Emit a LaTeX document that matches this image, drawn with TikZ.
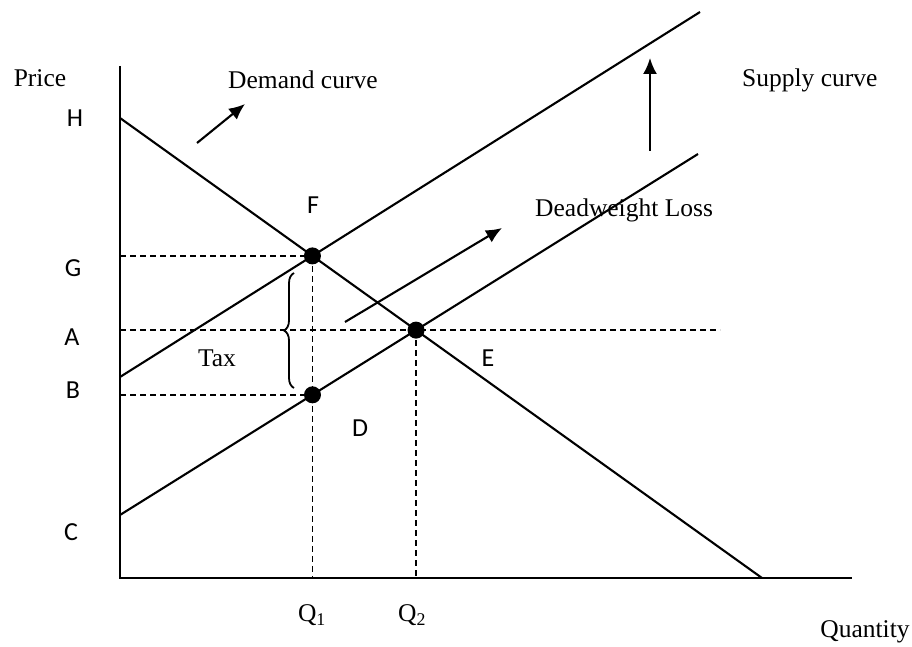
\documentclass[tikz,border=0pt]{standalone}
\usepackage{fontspec}
\setmainfont{Liberation Serif}
\newfontfamily\lblfont{Carlito}
\usetikzlibrary{decorations.pathreplacing,arrows.meta}
\begin{document}
\begin{tikzpicture}[x=1pt,y=-1pt,
  axisline/.style={line width=2.6pt},
  curve/.style={line width=2.1pt},
  guide/.style={line width=1.8pt,dash pattern=on 6pt off 4pt},
  shiftarrow/.style={line width=2.1pt,-{Latex[length=16pt,width=14pt]}},
  dot/.style={circle,fill=black,inner sep=0pt,minimum size=17pt},
  serlbl/.style={font=\fontsize{25.5}{30}\selectfont,inner sep=0pt},
  letlbl/.style={font=\lblfont\fontsize{26}{30}\selectfont,inner sep=0pt}]
\useasboundingbox (0,0) rectangle (912,647);
% key points
\coordinate (O) at (120,578);
\coordinate (Ytop) at (120,66);
\coordinate (Xend) at (852,578);
\coordinate (Hpt) at (120,118);
\coordinate (Dend) at (762,578);
\coordinate (S1a) at (120,377);
\coordinate (S1b) at (700,12);
\coordinate (S2a) at (120,515);
\coordinate (S2b) at (698,154);
\coordinate (F) at (intersection of Hpt--Dend and S1a--S1b);
\coordinate (E) at (intersection of Hpt--Dend and S2a--S2b);
\coordinate (Fb) at (F|-O);
\coordinate (Eb) at (E|-O);
\coordinate (Dp) at (intersection of F--Fb and S2a--S2b);
\coordinate (Gax) at (O|-F);
\coordinate (Aax) at (O|-E);
\coordinate (Bax) at (O|-Dp);
\coordinate (Aref) at (720,0);
\coordinate (Aend) at (Aref|-E);
% axes
\draw[axisline] (Ytop) -- (O) -- (Xend);
% dashed guides
\draw[guide] (Gax) -- (F);
\draw[guide] (Aax) -- (Aend);
\draw[guide] (Bax) -- (Dp);
\draw[guide] (F) -- (Fb);
\draw[guide] (E) -- (Eb);
% curves
\draw[curve] (Hpt) -- (Dend);
\draw[curve] (S1a) -- (S1b);
\draw[curve] (S2a) -- (S2b);
% dots
\node[dot] (Fdot) at (F) {};
\node[dot] (Edot) at (E) {};
\node[dot] (Ddot) at (Dp) {};
% shift arrows
\coordinate (da1) at (197,143);
\coordinate (da2) at (245,104);
\draw[shiftarrow] (da1) -- (da2);
\coordinate (ua1) at (650,151);
\coordinate (ua2) at (650,58);
\draw[shiftarrow] (ua1) -- (ua2);
\coordinate (wa1) at (345,322);
\coordinate (wa2) at (502,228);
\draw[shiftarrow] (wa1) -- (wa2);
% brace
\coordinate (br1) at (294,388);
\coordinate (br2) at (294,273);
\draw[line width=1.8pt,decorate,decoration={brace,amplitude=10pt}] (br1) -- (br2);
% labels
\node[serlbl] (price) at (40,78) {Price};
\node[serlbl,anchor=west] (demand) at (228,80) {Demand curve};
\node[serlbl,anchor=west] (supply) at (742,80) {Supply curve};
\node[serlbl,anchor=west] (dwl) at (535,210) {Deadweight Loss};
\node[serlbl] (tax) at (217,358) {Tax};
\node[serlbl] (q1) at (312,615) {Q\textsubscript{1}};
\node[serlbl] (q2) at (412,615) {Q\textsubscript{2}};
\node[serlbl] (qty) at (865,632) {Quantity};
\node[letlbl] (lH) at (75,118) {H};
\node[letlbl] (lG) at (73,268) {G};
\node[letlbl] (lA) at (72,337) {A};
\node[letlbl] (lB) at (73,390) {B};
\node[letlbl] (lC) at (71,532) {C};
\node[letlbl] (lF) at (313,205) {F};
\node[letlbl] (lE) at (488,358) {E};
\node[letlbl] (lD) at (360,428) {D};
\end{tikzpicture}
\end{document}
